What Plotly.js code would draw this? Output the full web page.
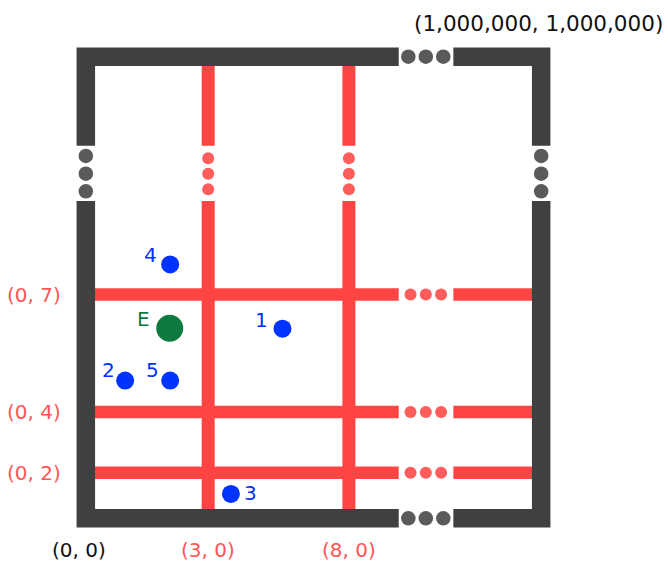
<!DOCTYPE html>
<html>
<head>
<meta charset="utf-8">
<script src="https://cdn.plot.ly/plotly-3.0.1.min.js"></script>
<style>html,body{margin:0;padding:0;background:#fff;}</style>
</head>
<body>
<div id="chart" style="width:668px;height:563px;"></div>
<script>
// ---- Data (schematic units: inner box spans 0..100 on both axes) ----
const pointIds = ['1', '2', '3', '4', '5'];
const pointX = [42.9, 6.9, 31.1, 17.2, 17.2];
const pointY = [40.7, 29.0, 3.4, 55.2, 29.0];

const centerId = ['E'];
const centerX = [17.1];
const centerY = [40.8];

const vGridX = [25.9, 58.1];
const vGridLabels = ['(3, 0)', '(8, 0)'];
const hGridY = [48.4, 21.9, 8.2];
const hGridLabels = ['(0, 7)', '(0, 4)', '(0, 2)'];

const originLabel = '(0, 0)';
const farCornerLabel = '(1,000,000, 1,000,000)';

const boxMin = 0, boxMax = 100;
const gapStart = 69.5, gapEnd = 82;
const redGapDots = [72.2, 75.7, 79.2];
const borderGapDots = [71.7, 75.7, 79.7];

// ---- Styles ----
const RED = '#ff4444', RED_DOT = '#ff5c5c', RED_TEXT = '#ff5555';
const DARK = '#404040', DARK_DOT = '#5a5a5a';
const BLUE = '#0033ff', GREEN = '#0f7a3f';
const FONT = 'DejaVu Sans, Verdana, sans-serif';
const bw = 4.2;           // border thickness in units
const bc = bw / 2;        // border centerline offset
// label pixel offsets relative to each point (style)
const labelShift = {'1': [-21, 9], '2': [-17, 11], '3': [20, 1], '4': [-20, 9], '5': [-18, 11], 'E': [-26, 9]};

const shapes = [];
vGridX.forEach(x => {
  shapes.push({type: 'line', xref: 'x', yref: 'y', x0: x, x1: x, y0: boxMin, y1: gapStart, line: {color: RED, width: 13}, layer: 'below'});
  shapes.push({type: 'line', xref: 'x', yref: 'y', x0: x, x1: x, y0: gapEnd, y1: boxMax, line: {color: RED, width: 13}, layer: 'below'});
});
hGridY.forEach(y => {
  shapes.push({type: 'line', xref: 'x', yref: 'y', x0: boxMin, x1: gapStart, y0: y, y1: y, line: {color: RED, width: 12.5}, layer: 'below'});
  shapes.push({type: 'line', xref: 'x', yref: 'y', x0: gapEnd, x1: boxMax, y0: y, y1: y, line: {color: RED, width: 12.5}, layer: 'below'});
});
const lo = boxMin - bc, hi = boxMax + bc;
const borderPaths = [
  `M ${lo},${gapStart} L ${lo},${lo} L ${gapStart},${lo}`,
  `M ${lo},${gapEnd} L ${lo},${hi} L ${gapStart},${hi}`,
  `M ${gapEnd},${hi} L ${hi},${hi} L ${hi},${gapEnd}`,
  `M ${hi},${gapStart} L ${hi},${lo} L ${gapEnd},${lo}`
];
borderPaths.forEach(p => shapes.push({type: 'path', xref: 'x', yref: 'y', path: p, line: {color: DARK, width: 18.5}, layer: 'below'}));

const rdX = [], rdY = [];
vGridX.forEach(x => redGapDots.forEach(d => { rdX.push(x); rdY.push(d); }));
hGridY.forEach(y => redGapDots.forEach(d => { rdX.push(d); rdY.push(y); }));
const gdX = [], gdY = [];
borderGapDots.forEach(d => {
  gdX.push(lo); gdY.push(d);
  gdX.push(hi); gdY.push(d);
  gdX.push(d); gdY.push(lo);
  gdX.push(d); gdY.push(hi);
});

const traces = [
  {x: rdX, y: rdY, mode: 'markers', type: 'scatter', marker: {size: 12, color: RED_DOT}, hoverinfo: 'skip', cliponaxis: false},
  {x: gdX, y: gdY, mode: 'markers', type: 'scatter', marker: {size: 14.5, color: DARK_DOT}, hoverinfo: 'skip', cliponaxis: false},
  {x: pointX, y: pointY, text: pointIds, mode: 'markers', type: 'scatter', marker: {size: 18, color: BLUE}, cliponaxis: false},
  {x: centerX, y: centerY, text: centerId, mode: 'markers', type: 'scatter', marker: {size: 27, color: GREEN}, cliponaxis: false}
];

const annotations = [];
pointIds.forEach((id, i) => annotations.push({x: pointX[i], y: pointY[i], xref: 'x', yref: 'y', text: id, showarrow: false,
  xanchor: 'center', yanchor: 'middle', xshift: labelShift[id][0], yshift: labelShift[id][1],
  font: {family: FONT, size: 20, color: BLUE}}));
centerId.forEach((id, i) => annotations.push({x: centerX[i], y: centerY[i], xref: 'x', yref: 'y', text: id, showarrow: false,
  xanchor: 'center', yanchor: 'middle', xshift: labelShift[id][0], yshift: labelShift[id][1],
  font: {family: FONT, size: 20, color: GREEN}}));
hGridY.forEach((y, i) => annotations.push({x: -7.3, y: y, xref: 'x', yref: 'y', text: hGridLabels[i], showarrow: false,
  xanchor: 'right', yanchor: 'middle', font: {family: FONT, size: 20, color: RED_TEXT}}));
vGridX.forEach((x, i) => annotations.push({x: x, y: -9.3, xref: 'x', yref: 'y', text: vGridLabels[i], showarrow: false,
  xanchor: 'center', yanchor: 'middle', font: {family: FONT, size: 20, color: RED_TEXT}}));
annotations.push({x: -3.7, y: -9.3, xref: 'x', yref: 'y', text: originLabel, showarrow: false,
  xanchor: 'center', yanchor: 'middle', font: {family: FONT, size: 20, color: '#111'}});
annotations.push({x: 101.4, y: 109.5, xref: 'x', yref: 'y', text: farCornerLabel, showarrow: false,
  xanchor: 'center', yanchor: 'middle', font: {family: FONT, size: 21.5, color: '#111'}});

const layout = {
  width: 668, height: 563,
  margin: {l: 0, r: 0, t: 0, b: 0},
  paper_bgcolor: '#fff', plot_bgcolor: '#fff',
  showlegend: false,
  xaxis: {range: [-21.74, 131.12], visible: false, fixedrange: true},
  yaxis: {range: [-12.19, 114.9], visible: false, fixedrange: true},
  shapes: shapes,
  annotations: annotations
};

Plotly.newPlot('chart', traces, layout, {displayModeBar: false, staticPlot: true});
</script>
</body>
</html>
